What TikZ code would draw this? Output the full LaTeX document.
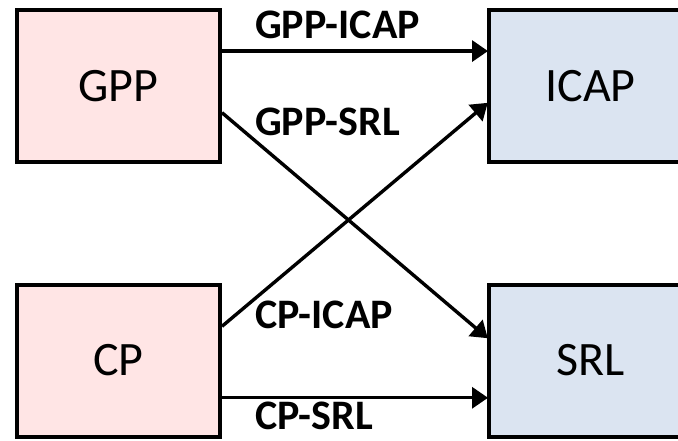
\documentclass[tikz,border=0pt]{standalone}
\usepackage{fontspec}
\setmainfont{Carlito}
\usetikzlibrary{arrows.meta,calc}
\definecolor{pinkfill}{RGB}{255,229,229}
\definecolor{bluefill}{RGB}{219,228,241}
\tikzset{
  srcbox/.style={draw=black, line width=4pt, fill=pinkfill, minimum width=203pt, minimum height=152pt, inner sep=0pt, font=\fontsize{48}{52}\selectfont},
  dstbox/.style={draw=black, line width=4pt, fill=bluefill, minimum width=203pt, minimum height=152pt, inner sep=0pt, font=\fontsize{48}{52}\selectfont},
  conn/.style={line width=3.4pt, -{Triangle[length=16pt,width=21pt]}, shorten >=-1pt},
  elabel/.style={anchor=base west, inner sep=0pt, font=\fontsize{42}{45}\selectfont\bfseries}
}
\begin{document}
\begin{tikzpicture}[x=1pt,y=-1pt]
\useasboundingbox (0,0) rectangle (678,441);
\clip (0,0) rectangle (678,441);
\node[srcbox] (GPP) at (118.5,86) {GPP};
\node[dstbox] (ICAP) at (590.5,86) {ICAP};
\node[srcbox] (CP) at (118.5,360.5) {CP};
\node[dstbox] (SRL) at (590.5,360.5) {SRL};
\coordinate (g1) at ($(GPP.north east)!0.276!(GPP.south east)$);
\coordinate (g2) at ($(GPP.north east)!0.671!(GPP.south east)$);
\coordinate (c1) at ($(CP.north east)!0.281!(CP.south east)$);
\coordinate (c2) at ($(CP.north east)!0.739!(CP.south east)$);
\coordinate (i1) at ($(ICAP.north west)!0.276!(ICAP.south west)$);
\coordinate (i2) at ($(ICAP.north west)!0.612!(ICAP.south west)$);
\coordinate (s1) at ($(SRL.north west)!0.353!(SRL.south west)$);
\coordinate (s2) at ($(SRL.north west)!0.739!(SRL.south west)$);
\draw[conn] (g1) -- (i1);
\draw[conn] (g2) -- (s1);
\draw[conn] (c1) -- (i2);
\draw[conn] (c2) -- (s2);
\node[elabel] (l1) at (255,39) {GPP-ICAP};
\node[elabel] (l2) at (255,136) {GPP-SRL};
\node[elabel] (l3) at (255,328) {CP-ICAP};
\node[elabel] (l4) at (255,429) {CP-SRL};
\end{tikzpicture}
\end{document}
